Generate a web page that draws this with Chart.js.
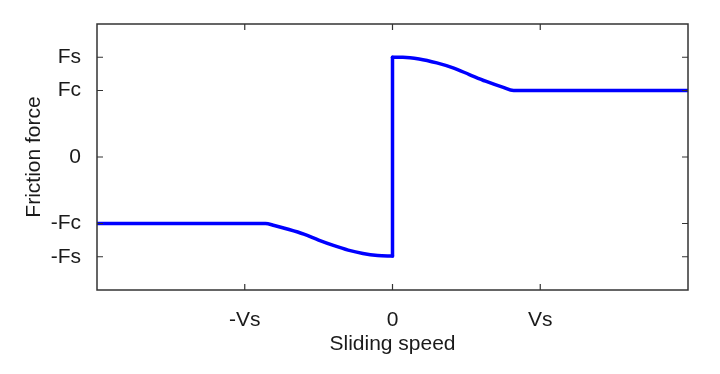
<!DOCTYPE html>
<html>
<head>
  <meta charset="utf-8" />
  <title>Friction force vs sliding speed</title>
  <script src="https://cdn.jsdelivr.net/npm/chart.js"></script>
  <style>
    html, body { margin: 0; padding: 0; background: #fff; }
    #wrap { width: 720px; height: 374px; }
  </style>
</head>
<body>
  <div id="wrap"><canvas id="frictionChart"></canvas></div>
  <script>
    // tick positions (Vs = 1, Fc = 1, Fs = 1.5)
    const xTickValues = [-1, 0, 1];
    const xTickLabels = ["-Vs", "0", "Vs"];
    const yTickValues = [-1.5, -1, 0, 1, 1.5];
    const yTickLabels = ["-Fs", "-Fc", "0", "Fc", "Fs"];

    // negative sliding branch
    const speedNeg = [-2, -0.86, -0.8, -0.7, -0.6, -0.5, -0.4, -0.3, -0.2, -0.1, 0];
    const forceNeg = [-1, -1, -1.03, -1.09, -1.16, -1.25, -1.33, -1.40, -1.45, -1.48, -1.49];
    // stick jump at zero speed
    const speedJump = [0, 0];
    const forceJump = [-1.49, 1.5];
    // positive sliding branch
    const speedPos = [0, 0.07, 0.18, 0.3, 0.41, 0.52, 0.63, 0.745, 0.82, 2];
    const forcePos = [1.5, 1.5, 1.475, 1.415, 1.34, 1.24, 1.14, 1.05, 1.0, 1.0];

    const toPts = (xs, ys) => xs.map((x, i) => ({ x: x, y: ys[i] }));
    const lineColor = "#0000ff";
    const textColor = "#1a1a1a";
    const font = { family: "'Liberation Sans', Arial, sans-serif", size: 21 };

    const mkSet = (xs, ys) => ({
      data: toPts(xs, ys),
      showLine: true,
      borderColor: lineColor,
      borderWidth: 3.5,
      borderCapStyle: "round",
      borderJoinStyle: "round",
      pointRadius: 0,
      cubicInterpolationMode: "monotone"
    });

    // box around plot + inward ticks on all four sides (matlab look)
    const boxTicks = {
      id: "boxTicks",
      afterDraw(chart) {
        const { ctx, chartArea: a, scales } = chart;
        const len = 6;
        ctx.save();
        ctx.strokeStyle = "#333";
        ctx.lineWidth = 1.5;
        ctx.strokeRect(a.left, a.top, a.right - a.left, a.bottom - a.top);
        ctx.lineWidth = 1.2;
        ctx.beginPath();
        xTickValues.forEach(v => {
          const px = scales.x.getPixelForValue(v);
          ctx.moveTo(px, a.bottom); ctx.lineTo(px, a.bottom - len);
          ctx.moveTo(px, a.top); ctx.lineTo(px, a.top + len);
        });
        yTickValues.forEach(v => {
          const py = scales.y.getPixelForValue(v);
          ctx.moveTo(a.left, py); ctx.lineTo(a.left + len, py);
          ctx.moveTo(a.right, py); ctx.lineTo(a.right - len, py);
        });
        ctx.stroke();
        ctx.restore();
      }
    };

    new Chart(document.getElementById("frictionChart"), {
      type: "scatter",
      data: {
        datasets: [
          mkSet(speedNeg, forceNeg),
          mkSet(speedJump, forceJump),
          mkSet(speedPos, forcePos)
        ]
      },
      options: {
        responsive: true,
        maintainAspectRatio: false,
        animation: false,
        layout: { padding: { top: 24, right: 32, left: 0, bottom: 0 } },
        plugins: {
          legend: { display: false },
          tooltip: { enabled: false }
        },
        scales: {
          x: {
            type: "linear",
            min: -2, max: 2,
            afterBuildTicks: s => { s.ticks = xTickValues.map(v => ({ value: v })); },
            afterFit: s => { s.height = 84; },
            grid: { display: false },
            border: { display: false },
            ticks: {
              color: textColor, font: font, padding: 10, maxRotation: 0,
              callback: v => xTickLabels[xTickValues.indexOf(v)]
            },
            title: {
              display: true, text: "Sliding speed",
              color: textColor, font: font, padding: { top: 0, bottom: 17 }
            }
          },
          y: {
            type: "linear",
            min: -2, max: 2,
            afterBuildTicks: s => { s.ticks = yTickValues.map(v => ({ value: v })); },
            afterFit: s => { s.width = 97; },
            grid: { display: false },
            border: { display: false },
            ticks: {
              color: textColor, font: font, padding: 8,
              callback: v => yTickLabels[yTickValues.indexOf(v)]
            },
            title: {
              display: true, text: "Friction force",
              color: textColor, font: font, padding: { top: 22, bottom: 0 }
            }
          }
        }
      },
      plugins: [boxTicks]
    });
  </script>
</body>
</html>
